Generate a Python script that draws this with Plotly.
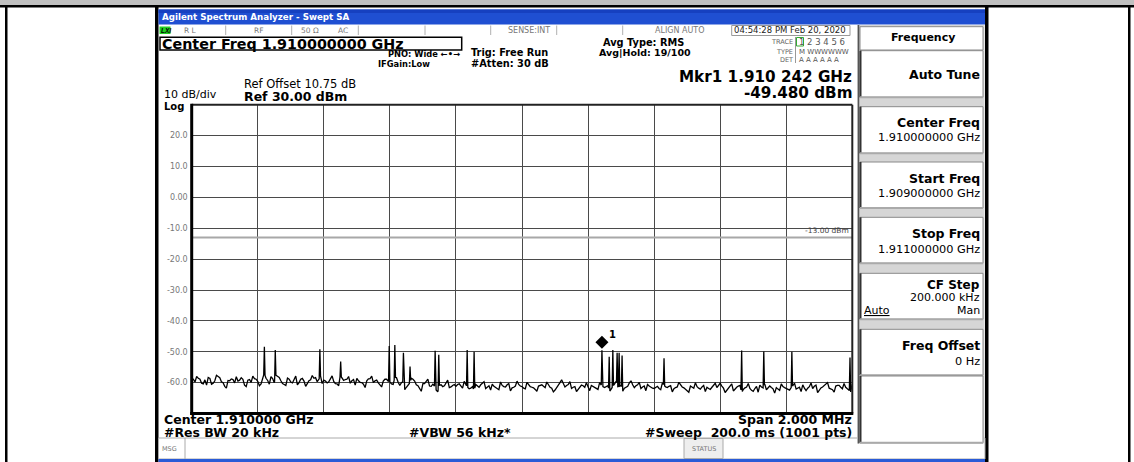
import numpy as np
import plotly.graph_objects as go

W, H = 1134, 462
FONT = "Liberation Sans, Arial, sans-serif"
DV = "DejaVu Sans, sans-serif"

# ---------------- data ----------------
start_ghz = 1.909
stop_ghz = 1.911
ref_level_db = 30.0
bottom_db = -70.0

# trace level at 0, 10, 20 ... 2000 kHz from the start frequency
noise_db = [
    -59.0, -59.8, -58.6, -60.2, -59.1, -58.3, -60.5, -59.4, -58.0, -59.7, -61.2, -59.3, -58.8, -60.1, -59.5, -58.4, -60.8, -59.2, -59.9, -58.7,
    -59.6, -60.4, -57.0, -59.3, -58.1, -60.0, -57.9, -59.4, -60.6, -58.5, -59.8, -59.0, -60.7, -58.9, -59.5, -60.3, -59.1, -58.6, -59.7, -57.8,
    -59.2, -60.1, -58.8, -59.6, -60.4, -57.5, -59.3, -58.9, -60.2, -59.0, -58.6, -59.9, -60.5, -59.4, -58.7, -60.0, -59.2, -60.8, -59.5, -58.9,
    -59.8, -60.6, -58.4, -60.9, -59.7, -61.5, -60.2, -58.9, -60.7, -61.9, -60.3, -59.6, -61.1, -60.5, -62.4, -60.8, -61.3, -60.0, -61.6, -60.9,
    -61.2, -60.4, -61.8, -60.7, -62.0, -61.3, -60.6, -61.5, -60.2, -61.9, -61.0, -60.5, -61.6, -62.3, -60.9, -61.4, -60.3, -61.7, -61.1, -60.6,
    -61.3, -62.0, -60.8, -61.5, -62.2, -61.1, -60.7, -61.6, -60.9, -61.8, -62.4, -61.2, -59.1, -61.4, -60.6, -61.9, -61.3, -62.1, -60.8, -61.5,
    -61.7, -60.9, -61.4, -62.2, -60.8, -61.6, -61.0, -62.1, -60.5, -61.3, -60.9, -61.8, -61.2, -59.4, -61.6, -60.7, -61.9, -61.1, -60.6, -61.5,
    -61.9, -61.2, -62.3, -60.9, -61.6, -61.0, -62.0, -61.4, -60.8, -61.7, -62.5, -61.1, -61.8, -61.3, -62.1, -60.9, -61.5, -62.2, -61.0, -61.6,
    -60.2, -61.8, -62.4, -61.0, -62.7, -61.5, -60.9, -62.2, -61.4, -61.9, -62.8, -61.2, -60.8, -61.7, -62.3, -61.1, -62.0, -61.6, -62.5, -61.3,
    -61.8, -62.4, -61.0, -62.1, -61.5, -60.7, -62.6, -61.3, -61.9, -60.8, -62.2, -61.4, -60.6, -61.8, -62.3, -61.1, -60.9, -62.0, -61.5, -62.4,
    -60.5,
]
# trace level at 5, 15, 25 ... 1995 kHz from the start frequency
noise_mid_db = [
    -58.9, -58.0, -58.9, -60.4, -60.8, -58.6, -60.2, -57.6, -58.4, -60.0, -61.8, -59.4, -59.0, -58.1, -59.2, -58.9, -61.3, -59.0, -57.9, -58.9,
    -61.0, -58.2, -58.6, -60.5, -58.7, -57.6, -58.3, -60.3, -60.9, -58.9, -60.1, -57.9, -60.0, -58.6, -61.2, -59.4, -57.7, -58.4, -59.0, -60.3,
    -59.5, -59.7, -57.8, -60.3, -61.0, -58.6, -59.0, -58.0, -59.4, -60.8, -59.4, -60.0, -61.6, -58.8, -57.9, -59.4, -60.1, -61.4, -58.9, -59.6,
    -60.4, -58.3, -59.9, -60.0, -62.3, -60.6, -58.6, -59.5, -61.0, -62.8, -60.3, -58.9, -61.2, -61.1, -63.0, -60.7, -61.0, -59.2, -61.4, -60.6,
    -60.6, -61.3, -59.6, -61.5, -61.8, -62.6, -61.2, -60.7, -59.7, -61.3, -62.4, -61.2, -62.1, -59.8, -61.3, -60.7, -62.7, -61.5, -59.5, -61.1,
    -61.8, -59.9, -61.3, -61.7, -62.8, -61.0, -61.2, -59.8, -61.5, -63.0, -61.6, -60.0, -60.4, -60.9, -59.7, -61.5, -62.9, -61.3, -61.0, -60.0,
    -62.6, -61.3, -61.9, -60.0, -61.3, -61.2, -62.9, -61.2, -59.6, -61.2, -62.8, -61.4, -60.1, -60.7, -61.0, -59.9, -61.4, -62.6, -61.1, -61.8,
    -61.4, -61.9, -60.1, -61.4, -61.2, -63.0, -61.6, -59.9, -61.4, -62.2, -63.1, -61.5, -60.0, -61.8, -61.4, -62.9, -61.9, -61.5, -60.2, -60.8,
    -61.1, -63.2, -61.8, -60.4, -62.0, -61.1, -63.3, -61.7, -60.3, -62.5, -61.9, -63.1, -61.4, -60.5, -61.6, -61.6, -63.4, -62.1, -60.4, -61.6,
    -62.0, -61.6, -60.2, -61.7, -62.9, -61.8, -61.8, -60.1, -61.2, -63.2, -61.7, -60.9, -60.0, -62.1, -63.1, -60.9, -61.5, -60.3, -62.0, -63.0,
]
spike_khz = [220, 253, 388, 451, 598, 615, 641, 661, 737, 748, 834, 855,
             1242, 1264, 1275, 1288, 1294, 1303, 1430, 1665, 1732, 1817, 1993]
spike_db = [-48.4, -49.4, -49.2, -53.2, -48.1, -47.8, -50.3, -54.8, -49.7, -51.0, -49.4, -50.0,
            -49.48, -51.6, -49.4, -50.3, -50.3, -51.2, -52.1, -49.6, -49.9, -50.0, -51.9]
marker_ghz = 1.910242
marker_db = -49.48
limit_db = -13.0
ytick_vals = [20, 10, 0, -10, -20, -30, -40, -50, -60]
ytick_text = ["20.0", "10.0", "0.00", "-10.0", "-20.0", "-30.0", "-40.0", "-50.0", "-60.0"]

# ---------------- build trace ----------------
span_khz = (stop_ghz - start_ghz) * 1e6
f_main = np.linspace(0, span_khz, len(noise_db))
f_mid = (f_main[:-1] + f_main[1:]) / 2
nf = np.concatenate([f_main, f_mid])
nv = np.concatenate([noise_db, noise_mid_db])
order = np.argsort(nf)
nf, nv = nf[order], nv[order]
pts = [(f, v) for f, v in zip(nf, nv) if all(abs(f - s) > 2.5 for s in spike_khz)]
for s, v in zip(spike_khz, spike_db):
    pts += [(s - 2, float(np.interp(s - 2, nf, nv))), (s, v), (s + 2, float(np.interp(s + 2, nf, nv)))]
pts.sort(key=lambda p: p[0])
tx = [start_ghz + p[0] * 1e-6 for p in pts]
ty = [p[1] for p in pts]

# plot area in pixels
PL, PR, PT, PB = 191.7, 852.3, 104.8, 413.5
px_per_db = (PB - PT) / (ref_level_db - bottom_db)

fig = go.Figure()
fig.add_trace(go.Scatter(x=tx, y=ty, mode="lines",
                         line=dict(color="#000000", width=1.3), hoverinfo="skip"))
fig.add_trace(go.Scatter(x=[marker_ghz], y=[marker_db + 7.8 / px_per_db], mode="markers",
                         marker=dict(symbol="diamond", size=10, color="#000000"), hoverinfo="skip"))

# ---------------- helpers ----------------
def X(p):
    return p / W


def Y(p):
    return 1 - p / H


shapes = []
annos = []


def R(x0, y0, x1, y1, fill=None, line=None, lw=1):
    shapes.append(dict(type="rect", xref="paper", yref="paper", x0=X(x0), x1=X(x1), y0=Y(y0), y1=Y(y1),
                       fillcolor=fill or "rgba(0,0,0,0)",
                       line=dict(color=line or "rgba(0,0,0,0)", width=lw if line else 0), layer="above"))


def L(x0, y0, x1, y1, color="#000", w=1):
    shapes.append(dict(type="line", xref="paper", yref="paper", x0=X(x0), x1=X(x1), y0=Y(y0), y1=Y(y1),
                       line=dict(color=color, width=w), layer="above"))


def T(x, y, s, size=10, color="#000", anchor="left", bold=False, family=DV):
    annos.append(dict(x=X(x), y=Y(y), xref="paper", yref="paper", text=("<b>%s</b>" % s) if bold else s,
                      showarrow=False, xanchor=anchor, yanchor="middle", borderpad=0,
                      font=dict(size=size, color=color, family=family)))


# ---------------- page chrome ----------------
R(0, 0, W, 5, fill="#c0c0c0")
R(0, 5, W, 7.5, fill="#000")
R(5, 5, 7.5, H, fill="#000")
R(1128, 5, 1130.5, H, fill="#000")
R(155, 7, 158.5, H, fill="#000")
R(985, 7, 988.5, H, fill="#000")

# title bar
R(158.5, 9.5, 985, 24.5, fill="#1f4fd2")
R(158.5, 9.5, 985, 13, fill="#1640c0")
T(161, 17.5, "Agilent Spectrum Analyzer - Swept SA", size=8.7, color="#ffffff", bold=True)

# status row
R(159.5, 26.5, 170.5, 34, fill="#22d022")
T(160, 30.5, "<i>LXI</i>", size=6.5, color="#000", bold=True, family=FONT)
for sx in [225.7, 291.7, 358.3, 425, 490.7, 556.7, 622.7]:
    L(sx, 25.5, sx, 35, color="#b0b0b0", w=1)
R(731.7, 25.5, 850, 35.5, line="#999999", lw=1)
T(183, 30.5, "R L", size=7.5, color="#777")
T(253, 30.5, "RF", size=7.5, color="#777")
T(300, 30.5, "50 Ω", size=7.5, color="#777")
T(337, 30.5, "AC", size=7.5, color="#777")
T(507, 30.5, "SENSE:INT", size=8, color="#777")
T(654, 30.5, "ALIGN AUTO", size=8, color="#777")
T(733, 30.5, "04:54:28 PM Feb 20, 2020", size=8.5, color="#222")

# header
R(160, 37.3, 461.7, 50, line="#000", lw=1.5)
T(161, 44, "Center Freq 1.910000000 GHz", size=14.3, bold=True)
T(387, 54.5, "PNO: Wide ←•→", size=8.3, bold=True)
T(377, 63.8, "IFGain:Low", size=8.3, bold=True)
T(470, 52.5, "Trig: Free Run", size=9.8, bold=True)
T(470, 63.5, "#Atten: 30 dB", size=9.8, bold=True)
T(601.7, 42, "Avg Type: RMS", size=9.8, bold=True)
T(598, 52.5, "Avg|Hold: 19/100", size=9.5, bold=True)
L(795.5, 37, 795.5, 63, color="#999", w=1)
R(796.5, 37.5, 803.5, 46, line="#33aa33", lw=1)
T(794, 41.7, "TRACE", size=6.5, color="#666", anchor="right")
T(797.5, 41.7, "1 2 3 4 5 6", size=8.5, color="#555")
T(794, 51.7, "TYPE", size=6.5, color="#666", anchor="right")
T(797.5, 51.7, "M WWWWWW", size=7, color="#555")
T(794, 59.6, "DET", size=6.5, color="#666", anchor="right")
T(797.5, 59.6, "A A A A A A", size=7, color="#555")
T(853, 77.3, "Mkr1 1.910 242 GHz", size=15.2, bold=True, anchor="right")
T(853, 93.3, "-49.480 dBm", size=15.2, bold=True, anchor="right")
T(242.7, 83.5, "Ref Offset 10.75 dB", size=11.5)
T(242.7, 96.5, "Ref 30.00 dBm", size=12.5, bold=True)
T(163, 94.5, "10 dB/div", size=11)
T(163, 106.5, "Log", size=10, bold=True)

# bottom texts
T(163, 419.5, "Center 1.910000 GHz", size=12.5, bold=True)
T(163, 432.5, "#Res BW 20 kHz", size=12.5, bold=True)
T(408, 432.5, "#VBW 56 kHz*", size=12.5, bold=True)
T(852.5, 419.5, "Span 2.000 MHz", size=12.5, bold=True, anchor="right")
T(852.5, 432.5, "#Sweep\u00a0\u00a0200.0 ms (1001 pts)", size=12.5, bold=True, anchor="right")

# status bar
R(158.5, 438, 985, 459, line="#aaaaaa", lw=1)
L(185, 438, 185, 459, color="#aaa", w=1)
T(161, 448.5, "MSG", size=6.5, color="#777")
R(684, 438.5, 723, 458.5, fill="#eeeeee", line="#aaaaaa", lw=1)
T(703.5, 448.5, "STATUS", size=6.5, color="#777", anchor="center")
R(158.5, 459, 985, 462, fill="#2a5bd7")

# soft key panel
R(857, 25, 984.5, 443.5, fill="#d6d6d6")
boxes = [(26.7, 50), (50.7, 97.3), (106.7, 153.3), (162, 208), (217.3, 263.3),
         (273.3, 319.3), (329.3, 375.3), (376, 442.7)]
for i, (b0, b1) in enumerate(boxes):
    R(860, b0, 983, b1, fill="#ffffff", line="#8a8a8a", lw=1)
    if i > 0:
        L(860.5, b0, 860.5, b1, color="#333", w=2)
        L(860, b1, 983, b1, color="#aaa", w=2)
L(858.5, 25, 858.5, 443.5, color="#555", w=1.5)
T(922.7, 38, "Frequency", size=11, bold=True, anchor="center")
T(981, 74, "Auto Tune", size=12.5, bold=True, anchor="right")
T(981, 122.7, "Center Freq", size=12.5, bold=True, anchor="right")
T(981, 137, "1.910000000 GHz", size=11.3, anchor="right")
T(981, 178.3, "Start Freq", size=12.5, bold=True, anchor="right")
T(981, 193, "1.909000000 GHz", size=11.3, anchor="right")
T(981, 234, "Stop Freq", size=12.5, bold=True, anchor="right")
T(981, 249, "1.911000000 GHz", size=11.3, anchor="right")
T(981, 285, "CF Step", size=12, bold=True, anchor="right")
T(981, 297.5, "200.000 kHz", size=11, anchor="right")
T(862.7, 310, '<span style="text-decoration:underline">Auto</span>', size=11)
T(981, 310, "Man", size=11, anchor="right")
T(981, 345.3, "Freq Offset", size=12.5, bold=True, anchor="right")
T(981, 361, "0 Hz", size=11.3, anchor="right")

# plot border
L(PL, PT, PR, PT, color="#222", w=2)
L(PR, PT, PR, PB, color="#222", w=2)
L(PL, PT - 1, PL, PB + 1.5, color="#000", w=3)
L(PL - 1.5, PB, PR + 1, PB, color="#000", w=3)

# limit line and marker label (data coordinates)
shapes.append(dict(type="line", xref="x", yref="y", x0=start_ghz, x1=stop_ghz, y0=limit_db, y1=limit_db,
                   line=dict(color="#a8a8a8", width=2), layer="between"))
annos.append(dict(x=stop_ghz, y=limit_db, xref="x", yref="y", text="-13.00 dBm", showarrow=False,
                  xanchor="right", yanchor="bottom", yshift=1, xshift=-1,
                  font=dict(size=7.5, color="#444", family=DV)))
annos.append(dict(x=marker_ghz, y=marker_db, xref="x", yref="y", text="<b>1</b>", showarrow=False,
                  xanchor="center", yanchor="middle", xshift=10.5, yshift=15.5,
                  font=dict(size=10, color="#000", family=DV)))

fig.update_layout(
    width=W, height=H, margin=dict(l=0, r=0, t=0, b=0),
    paper_bgcolor="#ffffff", plot_bgcolor="#ffffff", showlegend=False,
    shapes=shapes, annotations=annos,
    xaxis=dict(domain=[X(PL), X(PR)], range=[start_ghz, stop_ghz], dtick=0.0002, tick0=start_ghz,
               showgrid=True, gridcolor="#4a4a4a", gridwidth=1, zeroline=False, showticklabels=False,
               showline=False, fixedrange=True),
    yaxis=dict(domain=[Y(PB), Y(PT)], range=[bottom_db, ref_level_db], tickvals=ytick_vals,
               ticktext=ytick_text, showgrid=True, gridcolor="#4a4a4a", gridwidth=1, zeroline=False,
               ticks="", ticklabelstandoff=3, tickfont=dict(size=8, color="#777", family=DV),
               showline=False, fixedrange=True),
)

fig.write_html("out.html", config={"displayModeBar": False},
               post_script="document.body.style.margin='0';document.body.style.overflow='hidden';")
